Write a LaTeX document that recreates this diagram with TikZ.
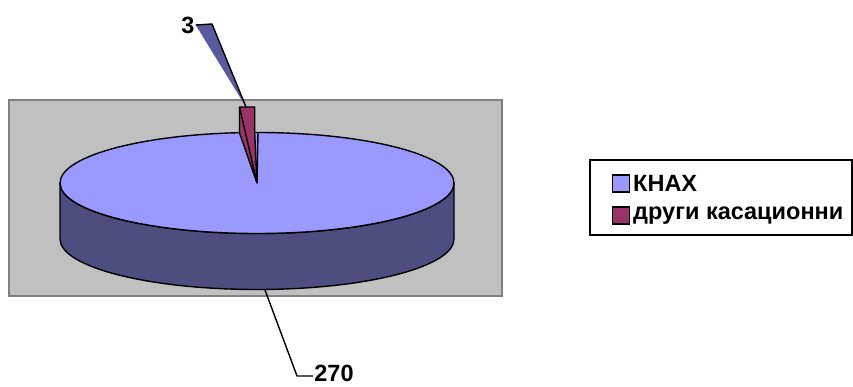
\documentclass[tikz,border=0pt]{standalone}
\usepackage{fontspec}
\setmainfont{Liberation Sans}
\definecolor{plotgray}{HTML}{C0C0C0}
\definecolor{framegray}{HTML}{808080}
\definecolor{pietop}{HTML}{9999FF}
\definecolor{pieside}{HTML}{4D4D80}
\definecolor{slice}{HTML}{993366}
\definecolor{sliver}{HTML}{5A5A9E}
\begin{document}
\begin{tikzpicture}[x=1pt,y=-1pt,
    edge/.style={draw=black,line width=1.4pt,line join=round},
    lbl/.style={font=\fontsize{23.5}{23.5}\selectfont\bfseries,inner sep=1pt},
    keybox/.style={draw=black,line width=1.2pt,minimum size=17pt,inner sep=0pt}]
                \useasboundingbox (0,0) rectangle (853,387);
                \filldraw[fill=plotgray,draw=framegray,line width=1.5pt] (9,100) rectangle (502,296);

                % pie body
                \filldraw[fill=pieside,edge] (60,183) -- (60,239) arc[start angle=180,end angle=0,x radius=197,y radius=50.5]
                    -- (454,183) arc[start angle=0,end angle=180,x radius=197,y radius=50.5] -- cycle;
                \filldraw[fill=pietop,edge] (257,183) ellipse[x radius=197,y radius=50.5];
                \draw[edge] (258,132.5) -- (257,183);

                % exploded slice
                \filldraw[fill=slice,edge] (239.5,107) -- (254.7,107) -- (254.7,133) -- (257,183) -- (239.5,133) -- cycle;
                \draw[edge] (239.5,107) -- (257,183);

                % labels
                \node[lbl] (lblA) at (188,25) {3};
                \coordinate (kneeA) at (212,24);
                \coordinate (tipA) at (246,107);
                \fill[sliver] (lblA.east) -- (kneeA) -- (tipA) -- cycle;
                \draw[edge] (lblA.east) -- (kneeA) -- (tipA);

                \node[lbl] (lblB) at (334,373.5) {270};
                \coordinate (kneeB) at (297,376);
                \coordinate (tipB) at (265,290);
                \draw[edge] (tipB) -- (kneeB) -- (lblB.west |- kneeB);

                % legend
                \draw[line width=1.2pt] (590,160) rectangle (852,235);
                \node[keybox,fill=pietop] (keyA) at (621,183.5) {};
                \node[keybox,fill=slice] (keyB) at (621,215.5) {};
                \node[lbl,anchor=west] (txtA) at (632,183.5) {КНАХ};
                \node[lbl,anchor=west] (txtB) at (632,215.5) {други касационни};
            \end{tikzpicture}
\end{document}
